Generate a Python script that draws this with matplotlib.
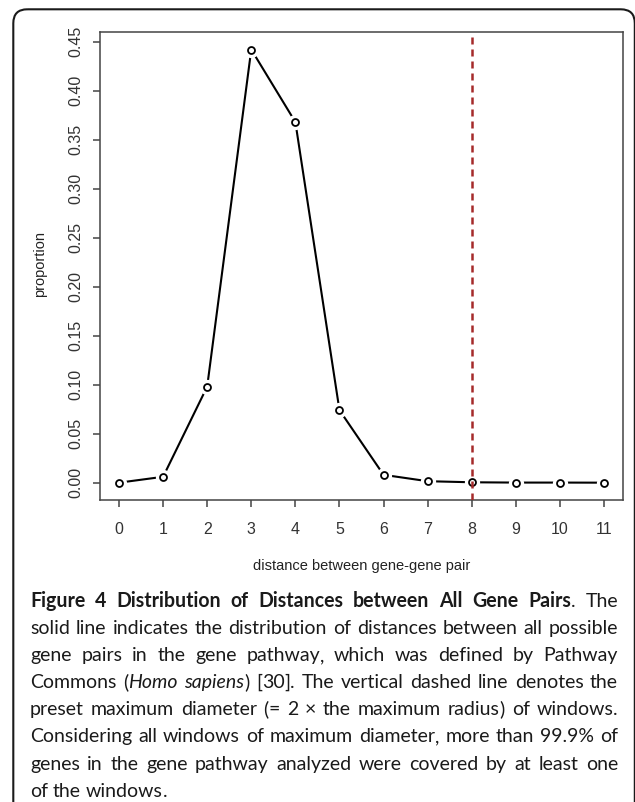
import matplotlib
matplotlib.use("Agg")
import matplotlib.pyplot as plt
from matplotlib.patches import FancyBboxPatch

# Données
distance = [0, 1, 2, 3, 4, 5, 6, 7, 8, 9, 10, 11]
proportion = [0.0, 0.006, 0.098, 0.442, 0.368, 0.074, 0.008, 0.0015, 0.0004, 0.0001, 0.0001, 0.0]
max_diameter = 8
y_ticks = [0.00, 0.05, 0.10, 0.15, 0.20, 0.25, 0.30, 0.35, 0.40, 0.45]
x_label = "distance between gene-gene pair"
y_label = "proportion"

# Légende de la figure : mots, chacun fait de morceaux (texte, style)
def mots(s, st="n"):
    return [[(w, st)] for w in s.split()]

caption_lines = [
    mots("Figure 4 Distribution of Distances between All Gene", "b")
    + [[("Pairs", "b"), (".", "n")], [("The", "n")]],
    mots("solid line indicates the distribution of distances between all possible"),
    mots("gene pairs in the gene pathway, which was defined by Pathway"),
    mots("Commons") + [[("(", "n"), ("Homo", "i")], [("sapiens", "i"), (")", "n")]]
    + mots("[30]. The vertical dashed line denotes the"),
    mots("preset maximum diameter (= 2 \u00d7 the maximum radius) of windows."),
    mots("Considering all windows of maximum diameter, more than 99.9% of"),
    mots("genes in the gene pathway analyzed were covered by at least one"),
    mots("of the windows."),
]


# ponctuation en début / fin de mot : morceau à part (ligne de base plus stable)
def decoupe(txt, st):
    debut, fin = "", ""
    while len(txt) > 1 and txt[0] in "([":
        debut += txt[0]
        txt = txt[1:]
    while len(txt) > 1 and txt[-1] in "),.]":
        fin = txt[-1] + fin
        txt = txt[:-1]
    return [(s, st) for s in (debut, txt, fin) if s]


caption_lines = [[[seg for txt, st in word for seg in decoupe(txt, st)] for word in line]
                 for line in caption_lines]

W, H = 635, 802
fig = plt.figure(figsize=(W / 100, H / 100), dpi=100)

# Axe principal (positions en pixels)
left, right, top, bottom = 99.6, 623.4, 32.2, 500.0
ax = fig.add_axes([left / W, 1 - bottom / H, (right - left) / W, (bottom - top) / H])

ax.plot(distance, proportion, color="black", lw=1.5, zorder=2)
ax.plot(distance, proportion, ls="none", marker="o", ms=11, mfc="white", mec="none", zorder=3)
ax.plot(distance, proportion, ls="none", marker="o", ms=5, mfc="none", mec="black", mew=1.3, zorder=4)
ax.axvline(max_diameter, color="#a52a2a", lw=1.8, ls=(0, (2.8, 2.0)), zorder=5)

# marges façon R (4 %)
xr = max(distance) - min(distance)
yr = max(proportion) - min(proportion)
ax.set_xlim(min(distance) - 0.04 * xr, max(distance) + 0.04 * xr)
ax.set_ylim(min(proportion) - 0.04 * yr, max(proportion) + 0.04 * yr)

ax.set_xticks(distance)
ax.set_xticklabels([str(d) for d in distance])
ax.set_yticks(y_ticks)
ax.set_yticklabels(["%.2f" % v for v in y_ticks], rotation=90, va="center")

for sp in ax.spines.values():
    sp.set_color("#444444")
    sp.set_linewidth(1.1)
ax.tick_params(axis="both", length=5, width=1.1, color="#444444",
               labelcolor="#333333", labelsize=11.5)
ax.tick_params(axis="x", pad=11)
ax.tick_params(axis="y", pad=7)
for lab in ax.get_xticklabels() + ax.get_yticklabels():
    lab.set_family("Liberation Sans")

fig.text(361.5 / W, 1 - 566 / H, x_label, ha="center", va="center",
         fontsize=10.5, color="#222222", family="Liberation Sans")
fig.text(40 / W, 1 - 264 / H, y_label, ha="center", va="center", rotation=90,
         fontsize=10.5, color="#222222", family="Liberation Sans")

# Page : coordonnées en pixels, y vers le bas
page = fig.add_axes([0, 0, 1, 1], zorder=10)
page.set_xlim(0, W)
page.set_ylim(H, 0)
page.axis("off")
page.patch.set_alpha(0)

cadre = FancyBboxPatch((13.3, 9.3), 621.5, 900, boxstyle="round,pad=0,rounding_size=14",
                       fc="none", ec="#1a1a1a", lw=1.5)
page.add_patch(cadre)

fig.canvas.draw()
renderer = fig.canvas.get_renderer()

cap_font = "Lato"
cap_x0, cap_x1 = 30, 618
baseline0, line_step = 607, 27.1
styles = {"n": dict(weight="normal", style="normal"),
          "b": dict(weight="bold", style="normal"),
          "i": dict(weight="normal", style="italic")}


def largeur(txt, size, st="n"):
    t = page.text(0, 0, txt, fontsize=size, family=cap_font, **styles[st])
    w = t.get_window_extent(renderer).width
    t.remove()
    return w


def espace(size):
    return largeur("a a", size) - largeur("aa", size)


# taille de police : la ligne la plus serrée doit tenir avec des espaces normales
s0 = 10.0
pire = 0
for line in caption_lines[:-1]:
    nat = sum(largeur(txt, s0, st) for word in line for txt, st in word)
    nat += (len(line) - 1) * espace(s0)
    pire = max(pire, nat)
cap_size = min(15.0, s0 * (cap_x1 - cap_x0) / pire * 0.99)
space_w = espace(cap_size)

for i, line in enumerate(caption_lines):
    y = round(baseline0 + i * line_step)
    items = []
    word_widths = []
    for word in line:
        segs = []
        w_tot = 0
        for txt, st in word:
            t = page.text(0, y, txt, fontsize=cap_size, family=cap_font,
                          color="#1a1a1a", va="baseline", ha="left", **styles[st])
            w = t.get_window_extent(renderer).width
            segs.append((t, w_tot))
            w_tot += w
        items.append(segs)
        word_widths.append(w_tot)
    if i < len(caption_lines) - 1 and len(line) > 1:
        gap = (cap_x1 - cap_x0 - sum(word_widths)) / (len(line) - 1)
    else:
        gap = space_w
    x = cap_x0
    for segs, ww in zip(items, word_widths):
        for t, off in segs:
            t.set_x(x + off)
        x += ww + gap

fig.savefig("out.png", dpi=100)
